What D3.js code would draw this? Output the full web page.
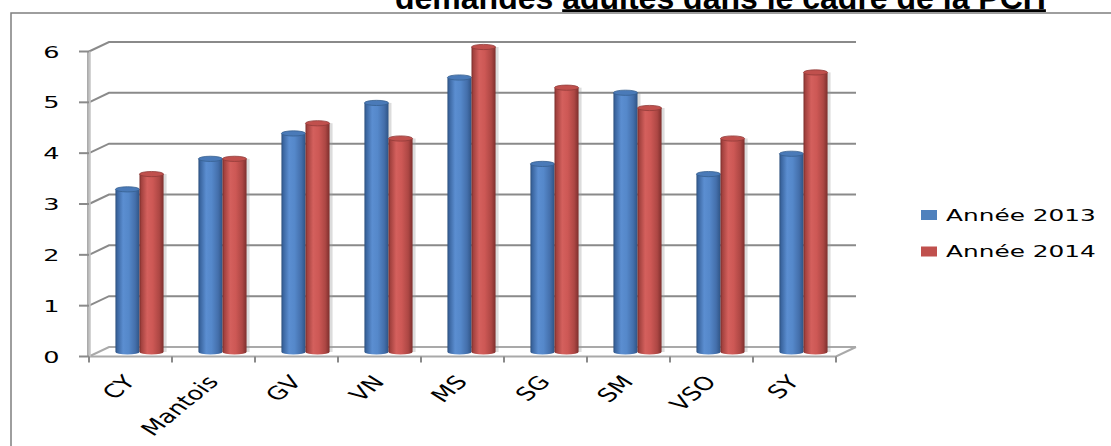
<!DOCTYPE html>
<html>
<head>
<meta charset="utf-8">
<script src="https://cdn.jsdelivr.net/npm/d3@7"></script>
<style>
  html, body { margin: 0; padding: 0; background: #fff; }
  svg { display: block; }
</style>
</head>
<body>
<svg id="chart" width="1111" height="446"></svg>
<script>
// Categories and series values
const categories = ["CY", "Mantois", "GV", "VN", "MS", "SG", "SM", "VSO", "SY"];
const seriesNames = ["Année 2013", "Année 2014"];
const values2013 = [3.2, 3.8, 4.3, 4.9, 5.4, 3.7, 5.1, 3.5, 3.9];
const values2014 = [3.5, 3.8, 4.5, 4.2, 6.0, 5.2, 4.8, 4.2, 5.5];
const yTicks = [0, 1, 2, 3, 4, 5, 6];
const titleLead = "demandes ";
const titleUnderlined = "adultes dans le cadre de la PCH";

const seriesValues = [values2013, values2014];
const svg = d3.select("#chart");

// Layout of the pseudo-3D plot box
const front = { left: 89, right: 836, bottom: 356.5, top: 51.5 };
const depth = { dx: 20, dy: -9.5 };          // back wall offset
const mid = { dx: 9, dy: -4.5 };             // bars sit half-way into the box
const STRETCH = 1.55;                         // text is drawn wide

const x = d3.scaleBand().domain(categories)
  .range([front.left, front.right]).paddingInner(0.42).paddingOuter(0.21);
const xs = d3.scaleBand().domain(seriesNames).range([0, x.bandwidth()]);
const xStep = d3.scaleBand().domain(categories).range([front.left, front.right]);
const y = d3.scaleLinear().domain([0, 6]).range([front.bottom, front.top]);

// Title (part of the surrounding text)
const title = svg.append("text")
  .attr("x", 395).attr("y", 8.5)
  .attr("font-family", "Liberation Sans, Arial, sans-serif")
  .attr("font-weight", "bold").attr("font-size", 32).attr("fill", "#000");
title.append("tspan").text(titleLead);
title.append("tspan").text(titleUnderlined);
const tNode = title.node();
const startX = 395 + tNode.getSubStringLength(0, titleLead.length);
const endX = 395 + tNode.getComputedTextLength();
svg.append("line").attr("x1", startX).attr("x2", endX)
  .attr("y1", 10.6).attr("y2", 10.6).attr("stroke", "#000").attr("stroke-width", 2.6);

// Chart frame
svg.append("rect").attr("x", 11).attr("y", 13).attr("width", 1300).attr("height", 600)
  .attr("fill", "none").attr("stroke", "#7f7f7f").attr("stroke-width", 1.5);

// Back wall gridlines with their diagonal links to the front axis
const grid = svg.append("g").attr("stroke-width", 2).attr("fill", "none");
yTicks.forEach(v => {
  const yf = y(v);
  grid.append("path")
    .attr("d", `M${front.left},${yf} L${front.left + depth.dx},${yf + depth.dy} L${front.right + depth.dx},${yf + depth.dy}`)
    .attr("stroke", v === 0 ? "#a9a9a9" : "#8a8a8a");
});

// Floor
const floor = svg.append("g").attr("fill", "none").attr("stroke", "#a9a9a9").attr("stroke-width", 2);
floor.append("path")
  .attr("d", `M${front.left},${front.bottom} L${front.right},${front.bottom} L${front.right + depth.dx},${front.bottom + depth.dy}`);

// Vertical axis line
svg.append("line").attr("x1", front.left).attr("x2", front.left)
  .attr("y1", front.top).attr("y2", front.bottom)
  .attr("stroke", "#c4c4c4").attr("stroke-width", 3.5);
svg.append("line").attr("x1", front.left - 1.2).attr("x2", front.left - 1.2)
  .attr("y1", front.top).attr("y2", front.bottom)
  .attr("stroke", "#9a9a9a").attr("stroke-width", 1);

// Y ticks and labels
const yAxis = svg.append("g");
yTicks.forEach(v => {
  const yf = y(v);
  yAxis.append("line").attr("x1", front.left - 10).attr("x2", front.left)
    .attr("y1", yf).attr("y2", yf).attr("stroke", "#8a8a8a").attr("stroke-width", 2);
  yAxis.append("text")
    .attr("transform", `translate(59.5,${yf + 6}) scale(${STRETCH},1)`)
    .attr("text-anchor", "end")
    .attr("font-family", "DejaVu Sans, sans-serif").attr("font-size", 16.5)
    .attr("fill", "#000").text(String(v));
});

// X ticks at category boundaries
const xAxis = svg.append("g");
d3.range(categories.length + 1).forEach(i => {
  const xv = front.left + i * xStep.step();
  xAxis.append("line").attr("x1", xv).attr("x2", xv)
    .attr("y1", front.bottom).attr("y2", front.bottom + 6)
    .attr("stroke", "#8a8a8a").attr("stroke-width", 2);
});

// Category labels, slanted
categories.forEach(c => {
  const cx = xStep(c) + xStep.bandwidth() / 2;
  xAxis.append("text")
    .attr("transform", `translate(${cx + 6},${front.bottom + 26}) scale(1.4,1) rotate(-49)`)
    .attr("text-anchor", "end")
    .attr("font-family", "DejaVu Sans, sans-serif").attr("font-size", 18.5)
    .attr("fill", "#000").text(c);
});

// Cylinder gradients
const defs = svg.append("defs");
const palettes = [
  { body: ["#2c4f7c", "#3b66a0", "#5b8ed1", "#5588ca", "#446fab", "#2f5485"], top: "#4a7ab8", topEdge: "#36608f" },
  { body: ["#7a2c2a", "#a3423f", "#d4605d", "#cd5855", "#ad4744", "#7d2f2d"], top: "#c0504d", topEdge: "#913b39" }
];
const stopsAt = [0, 0.08, 0.32, 0.55, 0.82, 1];
palettes.forEach((p, i) => {
  const g = defs.append("linearGradient").attr("id", `cyl${i}`)
    .attr("x1", "0%").attr("x2", "100%").attr("y1", "0%").attr("y2", "0%");
  p.body.forEach((col, k) => g.append("stop").attr("offset", stopsAt[k]).attr("stop-color", col));
});

// Bars as cylinders
const baseY = front.bottom + mid.dy;
const RY = 2.6;
const bars = svg.append("g");
categories.forEach((c, ci) => {
  seriesValues.forEach((vals, si) => {
    const w = xs.bandwidth();
    const x0 = x(c) + xs(seriesNames[si]) + mid.dx;
    const yt = y(vals[ci]) + mid.dy;
    const rx = w / 2;
    const g = bars.append("g");
    // soft shadow on the right
    g.append("rect").attr("x", x0 + w - 0.5).attr("y", yt)
      .attr("width", 3.5).attr("height", baseY - yt)
      .attr("fill", "#9a9a9a").attr("opacity", 0.35);
    // body with rounded bottom
    g.append("path")
      .attr("d", `M${x0},${yt} L${x0},${baseY} A${rx},${RY} 0 0 0 ${x0 + w},${baseY} L${x0 + w},${yt} Z`)
      .attr("fill", `url(#cyl${si})`);
    // top cap
    g.append("ellipse").attr("cx", x0 + rx).attr("cy", yt).attr("rx", rx).attr("ry", RY)
      .attr("fill", palettes[si].top).attr("stroke", palettes[si].topEdge).attr("stroke-width", 0.8);
  });
});

// Legend
const legend = svg.append("g");
const legendColors = ["#4f81bd", "#c0504d"];
seriesNames.forEach((name, i) => {
  const ly = 210 + i * 36.5;
  legend.append("rect").attr("x", 921).attr("y", ly).attr("width", 16).attr("height", 10)
    .attr("fill", legendColors[i]);
  legend.append("text")
    .attr("transform", `translate(946,${ly + 10.8}) scale(${STRETCH},1)`)
    .attr("font-family", "DejaVu Sans, sans-serif").attr("font-size", 16)
    .attr("fill", "#000").text(name);
});
</script>
</body>
</html>
